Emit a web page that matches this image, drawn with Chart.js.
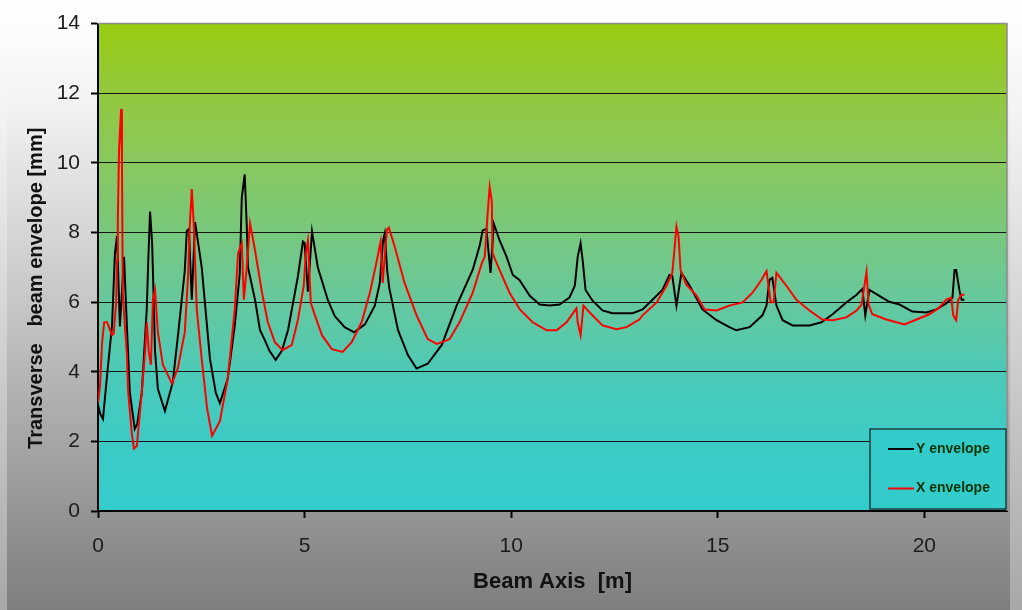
<!DOCTYPE html>
<html>
<head>
<meta charset="utf-8">
<script src="https://cdn.jsdelivr.net/npm/chart.js@4.4.1/dist/chart.umd.min.js"></script>
<style>
html,body{margin:0;padding:0;width:1022px;height:610px;overflow:hidden;background:linear-gradient(#ffffff 0%,#f2f2f2 20%,#a8a8a8 100%);}
#panel{position:absolute;left:7px;top:0;width:1003px;height:610px;background:linear-gradient(#ffffff 0%,#f6f6f6 14%,#c6c6c6 50%,#7e7e7e 100%);}
#wrap{position:absolute;left:0;top:0;width:1022px;height:610px;}
</style>
</head>
<body>
<div id="panel"></div>
<div id="wrap"><canvas id="c" width="1022" height="610"></canvas></div>
<script>
// ---- data ----
const seriesNames = ['Y envelope', 'X envelope'];

// Y envelope (black): beam-axis position [m] and envelope [mm]
const yEnvPos = [0,0.05,0.12,0.22,0.34,0.41,0.46,0.53,0.63,0.70,0.77,0.89,0.95,1.06,1.18,1.22,1.26,1.31,1.35,1.38,1.45,1.62,1.81,1.95,2.10,2.15,2.20,2.27,2.35,2.51,2.71,2.85,2.95,3.14,3.31,3.43,3.48,3.55,3.60,3.63,3.80,3.92,4.04,4.15,4.30,4.45,4.60,4.84,4.96,5.00,5.08,5.18,5.32,5.56,5.73,5.97,6.20,6.46,6.70,6.82,6.90,6.94,7.00,7.05,7.26,7.50,7.71,7.98,8.32,8.68,9.07,9.24,9.31,9.40,9.50,9.58,9.72,9.89,10.04,10.20,10.45,10.69,10.93,11.17,11.41,11.54,11.61,11.68,11.73,11.80,11.97,12.21,12.45,12.94,13.18,13.42,13.66,13.83,13.90,14.00,14.12,14.32,14.63,14.97,15.28,15.45,15.77,16.08,16.18,16.25,16.32,16.42,16.57,16.81,17.22,17.51,17.78,18.11,18.36,18.50,18.57,18.67,18.91,19.15,19.40,19.71,20.05,20.29,20.53,20.68,20.73,20.77,20.85,20.90,20.97];
const yEnvVal = [3.05,2.80,2.64,3.90,5.33,7.40,7.90,5.30,7.30,5.30,3.40,2.36,2.50,3.40,5.80,7.30,8.60,7.70,6.00,4.60,3.50,2.87,3.70,5.20,6.90,8.05,8.10,6.07,8.30,7.00,4.37,3.40,3.10,3.80,5.33,6.80,9.00,9.67,8.20,7.00,6.07,5.20,4.90,4.60,4.34,4.60,5.20,6.75,7.74,7.70,6.30,8.03,7.00,6.07,5.60,5.28,5.13,5.36,5.90,6.55,7.77,7.97,6.90,6.40,5.20,4.48,4.09,4.23,4.77,5.90,6.93,7.63,8.06,8.10,6.84,8.25,7.77,7.30,6.78,6.64,6.18,5.93,5.90,5.93,6.13,6.47,7.30,7.69,7.20,6.35,6.04,5.76,5.68,5.68,5.79,6.07,6.35,6.78,6.75,5.90,6.84,6.47,5.79,5.48,5.28,5.19,5.28,5.62,5.90,6.64,6.70,5.90,5.48,5.33,5.33,5.42,5.65,5.99,6.21,6.38,5.62,6.35,6.18,6.01,5.93,5.73,5.70,5.79,5.96,6.13,6.92,6.92,6.33,6.07,6.07];

// X envelope (red): beam-axis position [m] and envelope [mm]
const xEnvPos = [0,0.05,0.10,0.15,0.22,0.34,0.38,0.44,0.46,0.48,0.51,0.56,0.58,0.60,0.65,0.70,0.73,0.82,0.87,0.94,1.06,1.14,1.18,1.23,1.28,1.33,1.38,1.45,1.57,1.79,1.93,2.10,2.18,2.22,2.27,2.32,2.39,2.51,2.64,2.76,2.95,3.14,3.31,3.39,3.48,3.53,3.60,3.68,3.80,3.97,4.11,4.28,4.47,4.69,4.84,4.98,5.03,5.08,5.10,5.15,5.25,5.42,5.66,5.92,6.14,6.38,6.58,6.75,6.84,6.89,6.99,7.04,7.18,7.42,7.71,7.98,8.20,8.44,8.51,8.75,9.07,9.29,9.36,9.43,9.48,9.53,9.55,9.72,9.96,10.21,10.52,10.86,11.10,11.34,11.58,11.61,11.68,11.75,11.90,12.21,12.55,12.79,13.10,13.18,13.52,13.76,13.90,13.95,14.00,14.05,14.10,14.24,14.49,14.68,14.97,15.28,15.60,15.84,16.06,16.18,16.28,16.35,16.42,16.66,16.90,17.22,17.53,17.78,18.11,18.36,18.48,18.60,18.65,18.74,19.08,19.52,19.81,20.12,20.36,20.53,20.65,20.70,20.77,20.82,20.90,20.97];
const xEnvVal = [3.10,3.63,4.85,5.42,5.42,5.05,5.10,5.99,7.20,8.34,10.40,11.55,10.00,6.27,5.33,4.48,3.43,2.21,1.79,1.87,3.43,4.57,5.42,4.57,4.20,6.07,6.35,5.13,4.20,3.66,4.09,5.13,6.75,8.17,9.25,8.17,5.79,4.37,2.95,2.16,2.58,3.80,5.79,7.40,7.69,6.07,7.00,8.26,7.49,6.27,5.42,4.85,4.62,4.77,5.50,6.47,7.40,7.77,7.30,5.99,5.62,5.05,4.65,4.57,4.85,5.42,6.27,7.20,7.74,6.55,8.06,8.14,7.60,6.55,5.62,4.94,4.80,4.90,4.94,5.42,6.27,7.12,7.30,8.54,9.30,8.90,7.40,6.92,6.27,5.79,5.42,5.19,5.19,5.42,5.82,5.42,5.05,5.90,5.70,5.33,5.22,5.28,5.50,5.62,5.99,6.47,6.84,7.49,8.17,7.89,6.92,6.50,6.18,5.79,5.76,5.90,5.99,6.27,6.64,6.89,5.99,6.00,6.84,6.47,6.07,5.76,5.50,5.48,5.56,5.76,5.93,6.87,5.93,5.65,5.50,5.36,5.50,5.65,5.84,6.07,6.13,5.62,5.48,6.07,6.21,6.21];

const xTickValues = [0, 5, 10, 15, 20];
const yTickValues = [0, 2, 4, 6, 8, 10, 12, 14];
const xAxisTitle = 'Beam Axis  [m]';
const yAxisTitle = 'Transverse   beam envelope [mm]';

const toPoints = (pos, val) => pos.map((x, i) => ({x: x, y: val[i]}));

const FONT = '"Liberation Sans", Arial, sans-serif';

const plotBackground = {
  id: 'plotBackground',
  beforeDraw(chart) {
    const {ctx, chartArea: a} = chart;
    const g = ctx.createLinearGradient(0, a.top, 0, a.bottom);
    g.addColorStop(0, '#99cc11');
    g.addColorStop(0.143, '#92c83e');
    g.addColorStop(0.286, '#88c85e');
    g.addColorStop(0.429, '#78c87e');
    g.addColorStop(0.571, '#66c89e');
    g.addColorStop(0.714, '#4ccab6');
    g.addColorStop(0.857, '#3ccbc6');
    g.addColorStop(1, '#33cccc');
    ctx.save();
    ctx.fillStyle = g;
    ctx.fillRect(a.left, a.top, a.right - a.left, a.bottom - a.top);
    ctx.restore();
  },
  beforeDatasetsDraw(chart) {
    const {ctx, chartArea: a} = chart;
    ctx.save();
    ctx.strokeStyle = '#8c8c8c';
    ctx.lineWidth = 1.5;
    ctx.beginPath();
    ctx.moveTo(a.left, a.top);
    ctx.lineTo(a.right, a.top);
    ctx.lineTo(a.right, a.bottom);
    ctx.stroke();
    ctx.restore();
  }
};

const yTitlePlugin = {
  id: 'yTitlePlugin',
  afterDraw(chart) {
    const {ctx, chartArea: a} = chart;
    ctx.save();
    ctx.translate(36, (a.top + a.bottom) / 2 + 21);
    ctx.rotate(-Math.PI / 2);
    ctx.font = 'bold 20px ' + FONT;
    ctx.fillStyle = '#111111';
    ctx.textAlign = 'center';
    ctx.textBaseline = 'middle';
    ctx.fillText(yAxisTitle, 0, 0);
    ctx.restore();
  }
};

const boxLegend = {
  id: 'boxLegend',
  afterDraw(chart) {
    const {ctx, chartArea: a} = chart;
    const w = 136, h = 80;
    const x0 = a.right - 137, y0 = a.bottom - 82;
    ctx.save();
    ctx.fillStyle = '#34cccb';
    ctx.fillRect(x0, y0, w, h);
    ctx.strokeStyle = '#1f3d3d';
    ctx.lineWidth = 1.5;
    ctx.strokeRect(x0, y0, w, h);
    const order = [1, 0];
    order.forEach((di, i) => {
      const ds = chart.data.datasets[di];
      const yy = y0 + 20 + i * 39.5;
      ctx.strokeStyle = ds.borderColor;
      ctx.lineWidth = 2;
      ctx.beginPath();
      ctx.moveTo(x0 + 18, yy);
      ctx.lineTo(x0 + 44, yy);
      ctx.stroke();
      ctx.fillStyle = '#063306';
      ctx.font = 'bold 14px ' + FONT;
      ctx.textAlign = 'left';
      ctx.textBaseline = 'middle';
      ctx.fillText(ds.label, x0 + 46, yy);
    });
    ctx.restore();
  }
};

new Chart(document.getElementById('c'), {
  type: 'scatter',
  data: {
    datasets: [
      {label: seriesNames[1], data: toPoints(xEnvPos, xEnvVal), showLine: true, borderColor: '#ff0000', backgroundColor: '#ff0000', borderWidth: 2, pointRadius: 0, tension: 0, fill: false},
      {label: seriesNames[0], data: toPoints(yEnvPos, yEnvVal), showLine: true, borderColor: '#000000', backgroundColor: '#000000', borderWidth: 2, pointRadius: 0, tension: 0, fill: false}
    ]
  },
  options: {
    responsive: false,
    animation: false,
    devicePixelRatio: 1,
    layout: {padding: {left: 0, top: 18, right: 15, bottom: 0}},
    plugins: {legend: {display: false}, tooltip: {enabled: false}},
    scales: {
      x: {
        type: 'linear', min: 0, max: 22,
        afterBuildTicks: s => { s.ticks = xTickValues.map(v => ({value: v})); },
        afterFit: s => { s.height = 99; },
        ticks: {color: '#1c1c1c', font: {family: FONT, size: 21}, padding: 16, maxRotation: 0},
        grid: {drawOnChartArea: false, drawTicks: true, tickLength: 7, tickColor: '#000', tickWidth: 2},
        border: {display: true, color: '#000', width: 2},
        title: {display: true, text: xAxisTitle, color: '#111111', font: {family: FONT, size: 22, weight: 'bold'}, padding: {top: 0, bottom: 15}}
      },
      y: {
        type: 'linear', min: 0, max: 14,
        afterBuildTicks: s => { s.ticks = yTickValues.map(v => ({value: v})); },
        afterFit: s => { s.width = 98; },
        ticks: {color: '#1c1c1c', font: {family: FONT, size: 21}, padding: 11},
        grid: {color: c => (c.tick && c.tick.value === 14) ? 'rgba(0,0,0,0)' : '#151515', lineWidth: 1, drawTicks: true, tickLength: 7, tickColor: '#000', tickWidth: 2},
        border: {display: true, color: '#000', width: 2},
        title: {display: false}
      }
    }
  },
  plugins: [plotBackground, yTitlePlugin, boxLegend]
});
</script>
</body>
</html>
